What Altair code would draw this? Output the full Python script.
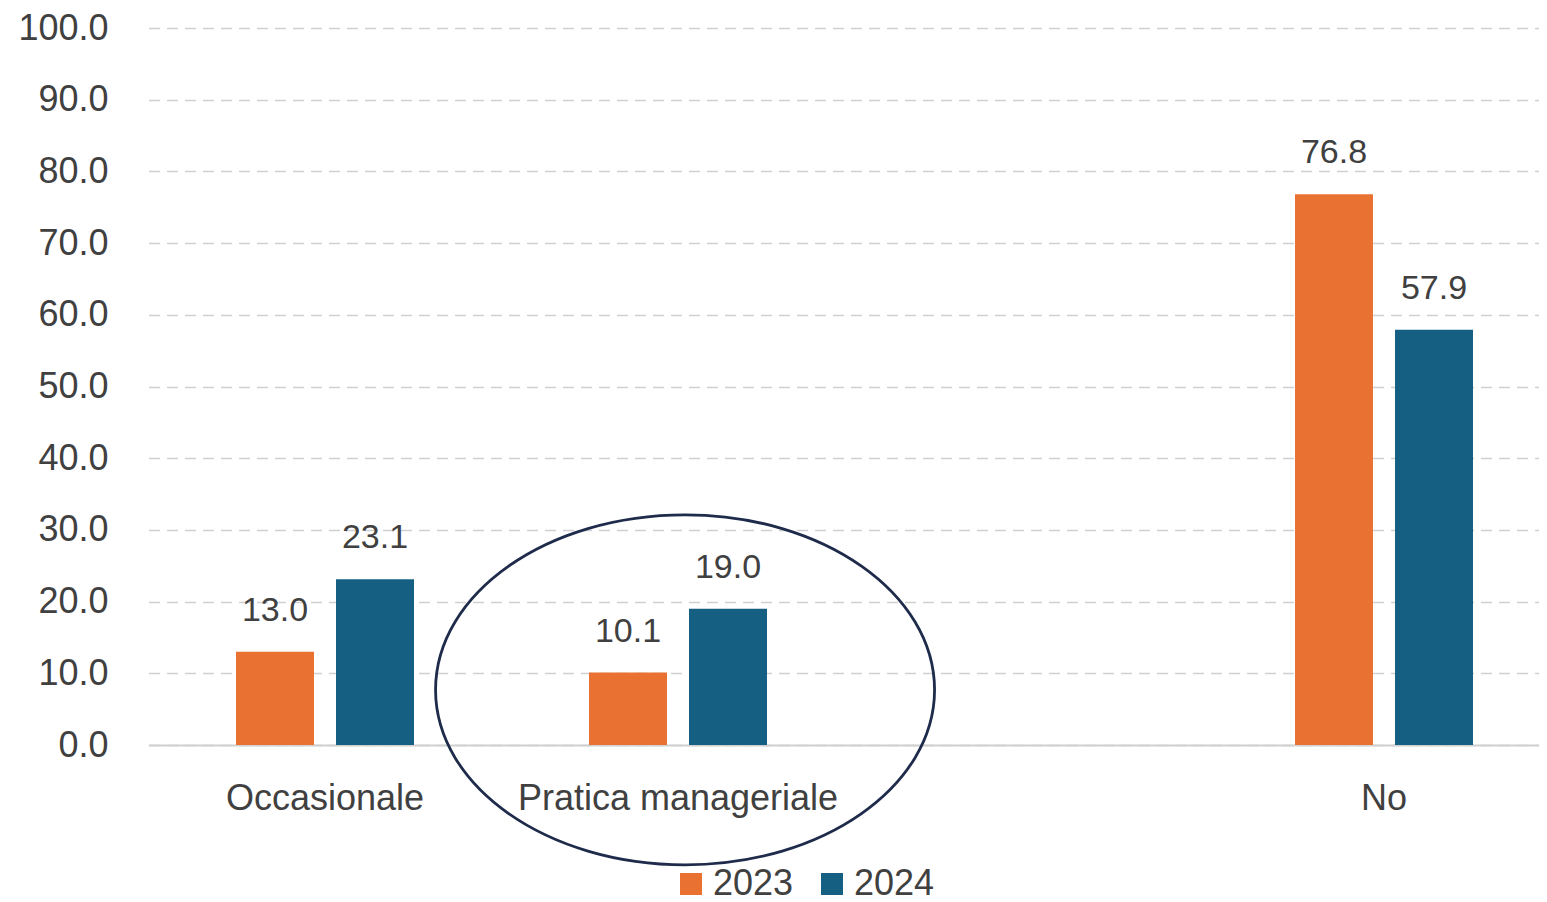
import altair as alt
import pandas as pd

categories = ["Occasionale", "Pratica manageriale", " ", "No"]
years = ["2023", "2024"]
values_2023 = [13.0, 10.1, None, 76.8]
values_2024 = [23.1, 19.0, None, 57.9]
colors = ["#E97132", "#156082"]

# annotation ellipse around "Pratica manageriale"
ellipse_category = ["Pratica manageriale"]
ellipse_value = [7.7]

rows = []
for c, a, b in zip(categories, values_2023, values_2024):
    rows.append({"cat": c, "year": "2023", "val": a})
    rows.append({"cat": c, "year": "2024", "val": b})
df = pd.DataFrame(rows)
ell = pd.DataFrame({"cat": ellipse_category, "val": ellipse_value})

FONT = "Liberation Sans"
TXT = "#404040"

x_scale = alt.Scale(domain=categories, paddingInner=0, paddingOuter=0,
                    rangeMin=3.5, rangeMax=1415.5)

x_enc = alt.X("cat:N", title=None, scale=x_scale,
              axis=alt.Axis(labelAngle=0, labelFontSize=36, labelFont=FONT, labelColor=TXT,
                            labelPadding=36, labelLimit=1000, ticks=False,
                            domainColor="#D0D0D0", domainWidth=2, grid=False))
y_enc = alt.Y("val:Q", title=None,
              scale=alt.Scale(domain=[0, 100], nice=False, zero=True),
              axis=alt.Axis(values=list(range(0, 101, 10)), format=".1f", labelFontSize=36,
                            labelFont=FONT, labelColor=TXT, labelPadding=37, ticks=False,
                            domain=False, grid=True, gridColor="#D0D0D0", gridDash=[11, 7],
                            gridWidth=1.5))

base = alt.Chart(df).transform_filter("datum.val != null")

bars = base.mark_bar().encode(
    x=x_enc,
    xOffset=alt.XOffset("year:N", sort=years,
                        scale=alt.Scale(paddingInner=0.22, paddingOuter=0.875)),
    y=y_enc,
    color=alt.Color("year:N", sort=years,
                    scale=alt.Scale(domain=years, range=colors),
                    legend=alt.Legend(title=None, orient="none", direction="horizontal",
                                      legendX=528, legendY=838, padding=0, symbolType="square",
                                      symbolSize=484, symbolStrokeWidth=0,
                                      labelFontSize=36, labelFont=FONT, labelColor=TXT,
                                      labelOffset=4, columnPadding=20)),
)

labels = base.mark_text(font=FONT, fontSize=34, color=TXT, baseline="alphabetic", dy=-31).encode(
    x=alt.X("cat:N", scale=x_scale),
    xOffset=alt.XOffset("year:N", sort=years),
    y="val:Q",
    text=alt.Text("val:Q", format=".1f"),
)

r = 0.7014
k = 0.5523
path = (f"M -1 0 C -1 {-k*r} {-k} {-r} 0 {-r} C {k} {-r} 1 {-k*r} 1 0 "
        f"C 1 {k*r} {k} {r} 0 {r} C {-k} {r} -1 {k*r} -1 0 Z")

ellipse = alt.Chart(ell).mark_point(shape=path, size=249001, filled=False,
                                    stroke="#1E2B4A", strokeWidth=2.8, opacity=1).encode(
    x=alt.X("cat:N", scale=x_scale, bandPosition=0.52),
    y="val:Q",
)

chart = alt.layer(bars, labels, ellipse).properties(
    width=1394, height=717,
    background="white",
    autosize=alt.AutoSizeParams(type="none"),
    padding={"left": 137, "top": 20, "right": 0, "bottom": 157},
).configure_view(stroke="transparent", strokeWidth=0)

chart.save("out.html", embed_options={"renderer": "svg", "actions": False})
